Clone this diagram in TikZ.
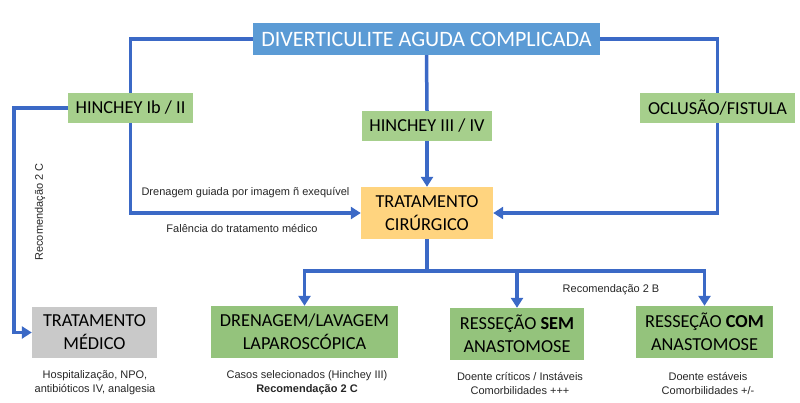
\documentclass[tikz,border=0pt]{standalone}
\usepackage{fontspec}
\setmainfont{Carlito}
\newfontfamily\smallfont{Liberation Sans}
\usetikzlibrary{arrows.meta}
\definecolor{topblue}{HTML}{5B9BD5}
\definecolor{boxgreen}{HTML}{A6CF8C}
\definecolor{darkgreen}{HTML}{90C078}
\definecolor{boxorange}{HTML}{FFD47F}
\definecolor{boxgray}{HTML}{C9C9C9}
\definecolor{linkblue}{HTML}{3B69C6}
\tikzset{
  box/.style={inner sep=0pt, align=center, text=black},
  greenbox/.style={box, fill=boxgreen},
  bigtext/.style={font=\fontsize{18.3}{23}\selectfont},
  midtext/.style={font=\fontsize{18.3}{21}\selectfont},
  link/.style={draw=linkblue, line width=3.5pt},
  arr/.style={link, -{Triangle[length=10pt,width=12pt]}},
  note/.style={font=\smallfont\fontsize{11}{14}\selectfont, align=center, text=black!85}
}
\begin{document}
\begin{tikzpicture}[x=1pt,y=-1pt]
\useasboundingbox (0,0) rectangle (800,402);
\node[box, fill=topblue, text=white, minimum width=347pt, minimum height=32pt,
  font=\fontsize{22}{24}\selectfont] (top) at (426.5,39) {DIVERTICULITE AGUDA COMPLICADA};
\node[greenbox, minimum width=125pt, minimum height=30pt, midtext] (hib) at (130.5,108) {HINCHEY Ib / II};
\node[greenbox, minimum width=130pt, minimum height=30pt, midtext] (h34) at (427,126) {HINCHEY III / IV};
\node[greenbox, minimum width=155pt, minimum height=30pt, midtext] (ocl) at (717.5,108) {OCLUSÃO/FISTULA};
\node[box, fill=boxorange, minimum width=132pt, minimum height=52pt, bigtext] (cir) at (427,213) {TRATAMENTO\\CIRÚRGICO};
\node[box, fill=boxgray, minimum width=125pt, minimum height=51pt, bigtext] (med) at (94.5,332.5) {TRATAMENTO\\MÉDICO};
\node[greenbox, fill=darkgreen!80!boxgreen, minimum width=187pt, minimum height=52pt, bigtext] (dren) at (304.5,332) {DRENAGEM/LAVAGEM\\LAPAROSCÓPICA};
\node[greenbox, fill=darkgreen!80!boxgreen, minimum width=134pt, minimum height=52pt, bigtext] (sem) at (517,334) {RESSEÇÃO \textbf{SEM}\\ANASTOMOSE};
\node[greenbox, fill=darkgreen!80!boxgreen, minimum width=137pt, minimum height=52pt, bigtext] (com) at (704.5,332) {RESSEÇÃO \textbf{COM}\\ANASTOMOSE};

\coordinate (leftrail) at (14,108);
\coordinate (branch) at (427,271);

\draw[link] (top.west) -| (hib.north);
\draw[link] (top.south) -- (h34.north);
\draw[link] (top.east) -| (ocl.north);
\draw[arr] (hib.west) -- (leftrail) |- (med.west);
\draw[arr] (hib.south) |- (cir.west);
\draw[arr] (h34.south) -- (cir.north);
\draw[arr] (ocl.south) |- (cir.east);
\draw[link] (cir.south) -- (branch);
\draw[arr] (branch) -| (dren.north);
\draw[arr] (branch) -| (sem.north);
\draw[arr] (branch) -| (com.north);

\node[note] (n1) at (245.5,193) {Drenagem guiada por imagem ñ exequível};
\node[note] (n2) at (242,228) {Falência do tratamento médico};
\node[note, rotate=90] (n3) at (40,212) {Recomendação 2 C};
\node[note] (n4) at (611,290) {Recomendação 2 B};
\node[note] (n5) at (95,383) {Hospitalização, NPO,\\antibióticos IV, analgesia};
\node[note] (n6) at (307,383) {Casos selecionados (Hinchey III)\\\textbf{Recomendação 2 C}};
\node[note] (n7) at (520,383) {Doente críticos / Instáveis\\Comorbilidades +++};
\node[note] (n8) at (708,383) {Doente estáveis\\Comorbilidades +/-};
\end{tikzpicture}
\end{document}
